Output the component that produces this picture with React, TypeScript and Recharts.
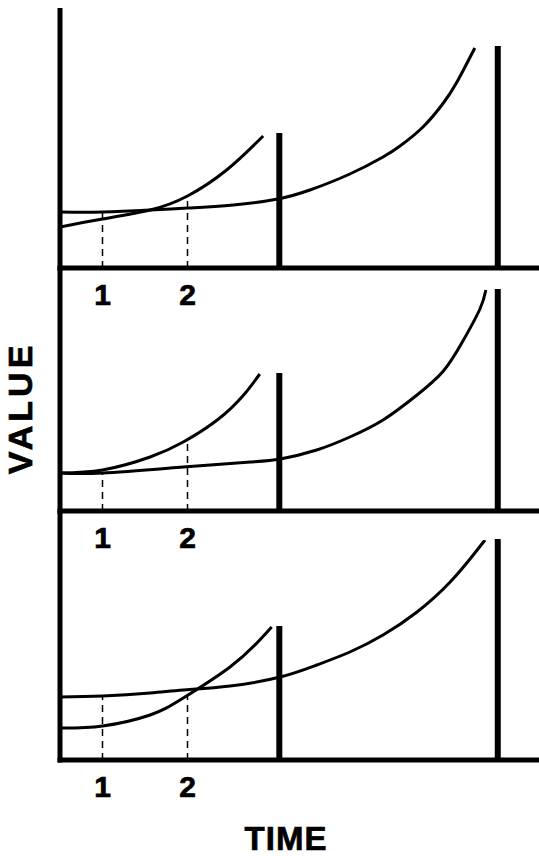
import React from "react";
import { LineChart, Line, XAxis, YAxis, ReferenceLine } from "recharts";

// time ticks and the two vertical bars (same in every panel)
const TIME_TICKS = [1, 2];
const BAR_TIMES = [3.08, 5.65];

// top panel
const TOP_FAST_T = [0.5, 1, 1.56, 2, 2.46, 2.89];
const TOP_FAST_V = [4.1, 4.9, 5.8, 7.2, 9.8, 13.2];
const TOP_SLOW_T = [0.5, 1, 1.56, 2, 2.54, 3.06, 3.44, 3.91, 4.3, 4.5, 4.77, 5.01, 5.17, 5.38];
const TOP_SLOW_V = [5.6, 5.6, 5.8, 6.0, 6.3, 6.9, 7.8, 9.4, 11.1, 12.2, 14.1, 16.5, 18.6, 22.0];
const TOP_BARS = [13.5, 22.2];
const TOP_DASHES = [5.6, 7.2];

// middle panel
const MID_FAST_T = [0.5, 1, 1.56, 1.95, 2.35, 2.65, 2.85];
const MID_FAST_V = [3.8, 4.1, 5.4, 6.9, 9.1, 11.5, 13.7];
const MID_SLOW_T = [0.5, 1, 1.95, 2.74, 3.09, 3.52, 3.91, 4.3, 4.7, 5.01, 5.24, 5.44, 5.51];
const MID_SLOW_V = [3.8, 3.8, 4.4, 4.9, 5.2, 6.1, 7.4, 9.1, 11.6, 14.0, 17.0, 20.2, 22.1];
const MID_BARS = [13.8, 22.2];
const MID_DASHES = [3.8, 6.9];

// bottom panel
const BOT_FAST_T = [0.5, 1, 1.56, 1.95, 2.5, 2.85, 2.99];
const BOT_FAST_V = [3.2, 3.4, 4.5, 6.2, 9.3, 12.0, 13.3];
const BOT_SLOW_T = [0.5, 1, 1.56, 1.95, 2.5, 3.09, 3.52, 3.91, 4.3, 4.7, 5.09, 5.38, 5.5];
const BOT_SLOW_V = [6.3, 6.4, 6.7, 7.0, 7.4, 8.3, 9.5, 10.8, 12.5, 14.8, 17.8, 20.7, 22.0];
const BOT_BARS = [13.4, 22.1];
const BOT_DASHES = [6.3, 6.4];

const FONT = "'Liberation Sans', Arial, Helvetica, sans-serif";
const WIDTH = 539;
const AXIS_H = 45;

const toPoints = (ts: number[], vs: number[]) => ts.map((t, i) => ({ t, v: vs[i] }));

const TimeTick = ({ x, y, payload }: any) => (
  <text
    x={x}
    y={y}
    dy={21}
    textAnchor="middle"
    fontFamily={FONT}
    fontWeight={700}
    fontSize={30}
    fill="#000"
    stroke="#000"
    strokeWidth={0.7}
  >
    {payload.value}
  </text>
);

interface PanelProps {
  top: number;
  plotHeight: number;
  fast: { t: number; v: number }[];
  slow: { t: number; v: number }[];
  bars: number[];
  dashes: number[];
}

function Panel({ top, plotHeight, fast, slow, bars, dashes }: PanelProps) {
  const axisLine = { stroke: "#000", strokeWidth: 5, strokeLinecap: "square" as const };
  return (
    <div style={{ position: "absolute", left: 0, top }}>
      <LineChart
        width={WIDTH}
        height={plotHeight + AXIS_H}
        margin={{ top: 0, right: 0, bottom: 0, left: 0 }}
      >
        <XAxis
          type="number"
          dataKey="t"
          domain={[0.5, 6.135]}
          allowDataOverflow
          ticks={TIME_TICKS}
          height={AXIS_H}
          tickLine={false}
          tickMargin={10}
          axisLine={axisLine}
          tick={<TimeTick />}
        />
        <YAxis
          type="number"
          domain={[0, plotHeight / 10]}
          allowDataOverflow
          width={60}
          tick={false}
          tickLine={false}
          axisLine={axisLine}
        />
        {BAR_TIMES.map((t, i) => (
          <ReferenceLine
            key={"bar" + i}
            segment={[
              { x: t, y: 0 },
              { x: t, y: bars[i] },
            ]}
            stroke="#000"
            strokeWidth={6}
          />
        ))}
        {TIME_TICKS.map((t, i) => (
          <ReferenceLine
            key={"dash" + i}
            segment={[
              { x: t, y: 0 },
              { x: t, y: dashes[i] },
            ]}
            stroke="#000"
            strokeWidth={1.5}
            strokeDasharray="7 5"
          />
        ))}
        <Line
          data={fast}
          dataKey="v"
          type="natural"
          stroke="#000"
          strokeWidth={3}
          dot={false}
          activeDot={false}
          isAnimationActive={false}
        />
        <Line
          data={slow}
          dataKey="v"
          type="natural"
          stroke="#000"
          strokeWidth={3}
          dot={false}
          activeDot={false}
          isAnimationActive={false}
        />
      </LineChart>
    </div>
  );
}

export default function App() {
  return (
    <div
      style={{
        position: "absolute",
        left: 0,
        top: 0,
        width: WIDTH,
        height: 856,
        background: "#fff",
        overflow: "hidden",
      }}
    >
      <Panel
        top={8}
        plotHeight={260}
        fast={toPoints(TOP_FAST_T, TOP_FAST_V)}
        slow={toPoints(TOP_SLOW_T, TOP_SLOW_V)}
        bars={TOP_BARS}
        dashes={TOP_DASHES}
      />
      <Panel
        top={268}
        plotHeight={243}
        fast={toPoints(MID_FAST_T, MID_FAST_V)}
        slow={toPoints(MID_SLOW_T, MID_SLOW_V)}
        bars={MID_BARS}
        dashes={MID_DASHES}
      />
      <Panel
        top={511}
        plotHeight={249}
        fast={toPoints(BOT_FAST_T, BOT_FAST_V)}
        slow={toPoints(BOT_SLOW_T, BOT_SLOW_V)}
        bars={BOT_BARS}
        dashes={BOT_DASHES}
      />
      <svg
        width={WIDTH}
        height={856}
        style={{ position: "absolute", left: 0, top: 0, pointerEvents: "none" }}
      >
        <text
          x={286}
          y={850}
          textAnchor="middle"
          fontFamily={FONT}
          fontWeight={700}
          fontSize={33}
          letterSpacing={1}
          fill="#000"
          stroke="#000"
          strokeWidth={0.7}
        >
          TIME
        </text>
        <text
          transform="translate(32,408) rotate(-90)"
          textAnchor="middle"
          fontFamily={FONT}
          fontWeight={700}
          fontSize={34}
          letterSpacing={4}
          fill="#000"
          stroke="#000"
          strokeWidth={0.7}
        >
          VALUE
        </text>
      </svg>
    </div>
  );
}
